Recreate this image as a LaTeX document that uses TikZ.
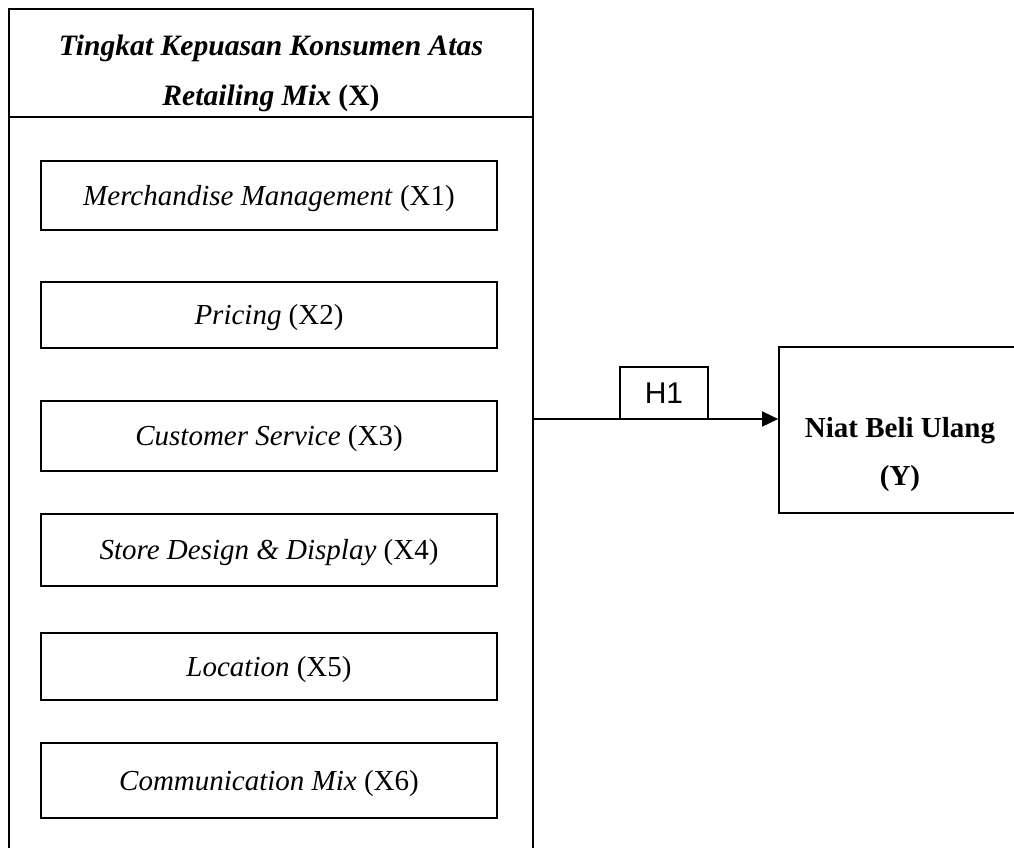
\documentclass[tikz,border=0pt]{standalone}
\usepackage{fontspec}
\setmainfont{Liberation Serif}
\newfontfamily\arialfont{Liberation Sans}
\usetikzlibrary{arrows.meta}
\begin{document}
\begin{tikzpicture}[x=1pt,y=-1pt,line width=1.7pt,
  frame/.style={draw,line join=miter},
  itembox/.style={draw,inner sep=0pt,minimum width=456pt,text height=19pt,text depth=0pt,
    font=\fontsize{29}{35}\selectfont},
  lbl/.style={inner sep=0pt,anchor=base},
  titlefont/.style={font=\bfseries\fontsize{29.6}{35}\selectfont},
  yfont/.style={font=\bfseries\fontsize{29}{35}\selectfont},
  hbox/.style={draw,inner sep=0pt,minimum width=88pt,minimum height=52pt,text height=21.5pt,text depth=0pt,
    font=\arialfont\fontsize{30}{36}\selectfont},
  link/.style={-{Triangle[length=16pt,width=15pt]}}]
\useasboundingbox (0,0) rectangle (1014,847);
\clip (0,0) rectangle (1014,847);
% outer container
\draw[frame] (9,870) -- (9,9) -- (533,9) -- (533,870);
\draw (9,117) -- (533,117);
\node[lbl,titlefont] (title1) at (271,55) {\itshape Tingkat Kepuasan Konsumen Atas};
\node[lbl,titlefont] (title2) at (271,105) {\textit{Retailing Mix} (X)};
% items
\node[itembox,minimum height=69pt] (x1) at (269,195.5) {\textit{Merchandise Management} (X1)};
\node[itembox,minimum height=66pt] (x2) at (269,315) {\textit{Pricing} (X2)};
\node[itembox,minimum height=70pt] (x3) at (269,436) {\textit{Customer Service} (X3)};
\node[itembox,minimum height=72pt] (x4) at (269,550) {\textit{Store Design \& Display} (X4)};
\node[itembox,minimum height=67pt] (x5) at (269,666.5) {\textit{Location} (X5)};
\node[itembox,minimum height=75pt] (x6) at (269,780.5) {\textit{Communication Mix} (X6)};
% dependent variable
\node[draw,inner sep=0pt,minimum width=242pt,minimum height=166pt] (y) at (900,430) {};
\node[lbl,yfont] (y1) at (900,437) {Niat Beli Ulang};
\node[lbl,yfont] (y2) at (900,485) {(Y)};
% hypothesis
\coordinate (xr) at (533,419);
\node[hbox] (h1) at (664,393) {H1};
\draw[link] (xr) -- (xr -| y.west);
\end{tikzpicture}
\end{document}
